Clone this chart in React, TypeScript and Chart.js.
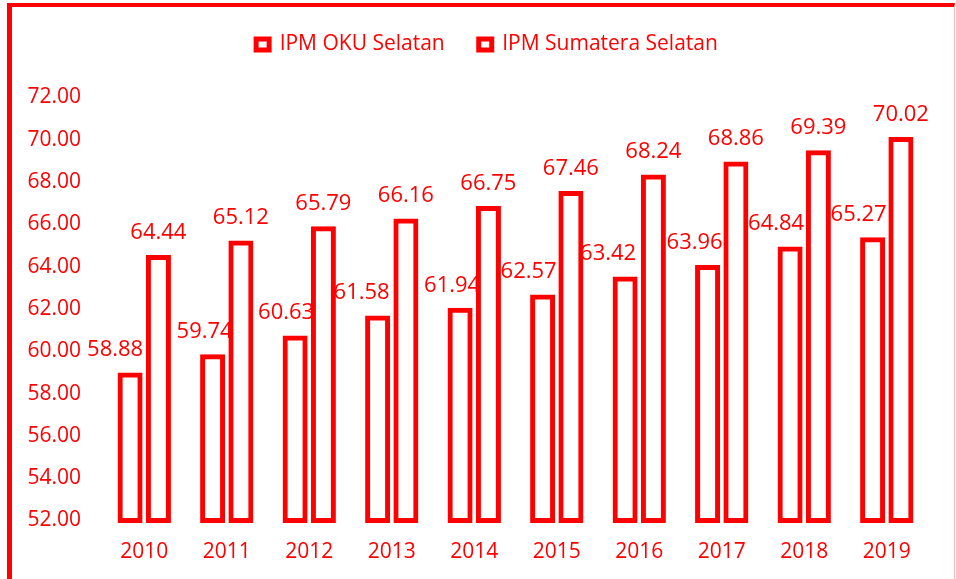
import React, { useEffect, useRef } from 'react';
import { Chart, registerables } from 'chart.js';

Chart.register(...registerables);

const years = ['2010', '2011', '2012', '2013', '2014', '2015', '2016', '2017', '2018', '2019'];
const ipmOkuSelatan = [58.88, 59.74, 60.63, 61.58, 61.94, 62.57, 63.42, 63.96, 64.84, 65.27];
const ipmSumateraSelatan = [64.44, 65.12, 65.79, 66.16, 66.75, 67.46, 68.24, 68.86, 69.39, 70.02];
const seriesNames = ['IPM OKU Selatan', 'IPM Sumatera Selatan'];
const yMin = 52;
const yMax = 72;
const yStep = 2;

// horizontal nudges (px) of the OKU value labels, as placed in the reference
const okuLabelNudge = [-15, -8, -9, -16, -8, -14, -17, -13, -14, -14];

const RED = '#ff0000';
const FONT = "'Open Sans', sans-serif";

const legendTweak = {
  id: 'legendTweak',
  beforeLayout(chart: any) {
    const lg = chart.legend;
    if (lg && !lg._gapPatched) {
      const fit = lg.fit.bind(lg);
      lg.fit = function () {
        fit();
        this.height += 32.5;
      };
      lg._gapPatched = true;
    }
  },
  afterLayout(chart: any) {
    const lg = chart.legend;
    if (lg) lg.left += 46;
  },
};

const valueLabels = {
  id: 'valueLabels',
  beforeDatasetsDraw(chart: any) {
    const ctx = chart.ctx;
    ctx.save();
    ctx.font = `22px ${FONT}`;
    ctx.fillStyle = RED;
    ctx.textAlign = 'center';
    ctx.textBaseline = 'middle';
    chart.data.datasets.forEach((ds: any, di: number) => {
      const meta = chart.getDatasetMeta(di);
      meta.data.forEach((bar: any, i: number) => {
        const nudge = di === 0 ? okuLabelNudge[i] : 0;
        ctx.fillText(Number(ds.data[i]).toFixed(2), bar.x + nudge, bar.y - 25);
      });
    });
    ctx.restore();
  },
};

export default function App() {
  const ref = useRef<HTMLCanvasElement>(null);

  useEffect(() => {
    if (!ref.current) return;
    const common = {
      backgroundColor: '#ffffff',
      borderColor: RED,
      borderWidth: 5,
      borderSkipped: false,
      inflateAmount: 2.5,
      base: yMin,
      clip: false,
      categoryPercentage: 0.686,
      barPercentage: 0.707,
    };
    const chart = new Chart(ref.current, {
      type: 'bar',
      data: {
        labels: years,
        datasets: [
          { label: seriesNames[0], data: ipmOkuSelatan, ...common },
          { label: seriesNames[1], data: ipmSumateraSelatan, ...common },
        ],
      },
      options: {
        animation: false,
        responsive: false,
        maintainAspectRatio: false,
        layout: { padding: { top: 0, left: 0, right: 28, bottom: 14 } },
        plugins: {
          tooltip: { enabled: false },
          legend: {
            position: 'top',
            labels: {
              color: RED,
              font: { family: FONT, size: 21 },
              boxWidth: 13,
              boxHeight: 11,
              padding: 34,
              generateLabels: (c: any) =>
                (Chart as any).defaults.plugins.legend.labels
                  .generateLabels(c)
                  .map((l: any) => ({ ...l, lineWidth: 5, fillStyle: '#ffffff', strokeStyle: RED })),
            },
          },
        },
        scales: {
          x: {
            grid: { display: false, drawTicks: false },
            border: { display: false },
            ticks: { color: RED, font: { family: FONT, size: 21 }, padding: 19 },
            afterFit: (scale: any) => {
              scale.height = 44.5;
            },
          },
          y: {
            min: yMin,
            max: yMax,
            grid: { display: false, drawTicks: false },
            border: { display: false },
            ticks: {
              stepSize: yStep,
              color: RED,
              font: { family: FONT, size: 21 },
              padding: 22,
              callback: (v: any) => Number(v).toFixed(2),
            },
            afterFit: (scale: any) => {
              scale.width = 103;
            },
          },
        },
      } as any,
      plugins: [legendTweak, valueLabels],
    });
    return () => chart.destroy();
  }, []);

  return (
    <div style={{ position: 'absolute', left: 0, top: 0, width: 956, height: 579, overflow: 'hidden', background: '#fff' }}>
      <div
        style={{
          position: 'absolute',
          left: 7,
          top: 3,
          width: 948,
          height: 600,
          boxSizing: 'border-box',
          borderTop: `4px solid ${RED}`,
          borderLeft: `5px solid ${RED}`,
          borderRight: '1px solid #f6b8b8',
        }}
      />
      <canvas ref={ref} width={956} height={579} style={{ position: 'absolute', left: 0, top: 0, width: 956, height: 579 }} />
    </div>
  );
}
